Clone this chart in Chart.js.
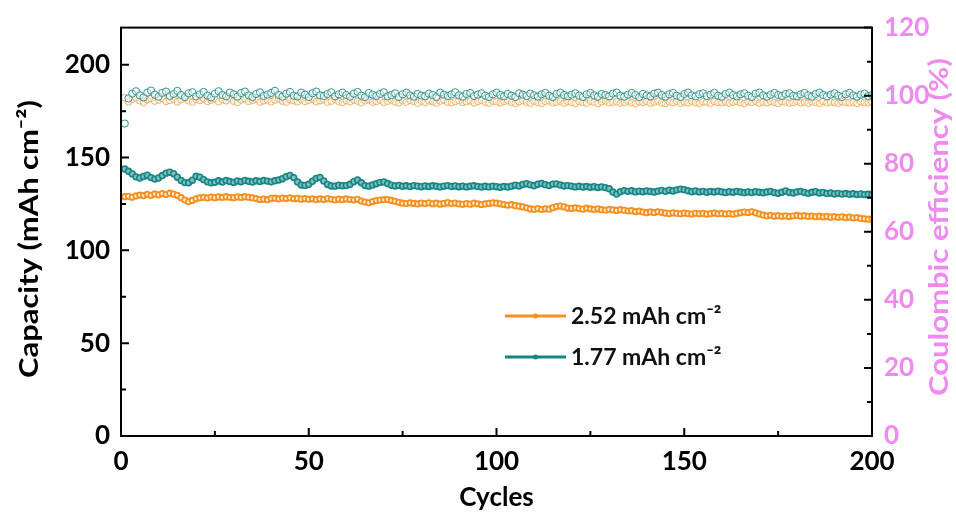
<!DOCTYPE html>
<html>
<head>
<meta charset="utf-8">
<script src="https://cdn.jsdelivr.net/npm/chart.js@4/dist/chart.umd.min.js"></script>
<style>
html,body{margin:0;padding:0;background:#fff;}
#wrap{width:956px;height:513px;position:relative;}
</style>
</head>
<body>
<div id="wrap"><canvas id="c" width="956" height="513"></canvas></div>
<script>
// ---- categories ----
const cycles = Array.from({length: 200}, (_, i) => i + 1);

// ---- series: capacity (mAh cm-2) ----
const cap252 = [
128.9,129.1,128.6,129.3,129.8,129.5,130.2,129.7,130.4,129.9,130.6,130.1,130.8,130.3,129.6,128.4,127.1,126.2,126.9,127.8,
128.3,128.6,128.2,128.7,128.4,128.8,128.5,128.9,128.6,128.4,128.8,128.5,128.9,128.6,128.3,127.9,127.4,127.6,127.3,128.0,
128.1,127.7,128.2,127.9,128.3,127.8,128.0,127.6,127.9,127.5,127.8,127.3,127.7,127.4,127.9,127.5,127.2,127.6,127.3,127.7,
127.4,127.1,127.5,126.6,126.0,125.6,126.3,126.8,127.1,127.3,127.4,126.9,126.4,125.9,125.4,125.2,125.6,125.3,125.0,125.5,
125.2,125.6,125.1,125.4,124.9,125.3,125.7,125.2,125.5,125.0,124.8,125.2,124.9,125.4,125.1,124.7,125.0,125.3,125.6,125.4,
125.1,124.7,124.3,124.6,124.1,123.8,123.4,122.9,122.3,122.1,122.5,122.0,122.4,122.2,123.0,123.6,123.9,123.4,122.8,122.6,
122.9,122.5,122.2,122.7,122.3,122.0,122.4,121.9,121.6,122.1,121.8,121.5,121.9,121.6,121.2,121.4,120.9,121.1,120.6,120.3,
120.7,120.4,120.8,120.5,120.1,119.8,120.2,119.9,119.7,120.1,119.8,119.6,120.0,119.7,119.9,119.5,119.8,120.1,119.7,119.9,
119.6,119.8,119.5,119.9,120.3,120.6,120.4,120.8,120.2,119.6,119.0,118.6,118.9,118.4,118.7,118.3,118.6,118.2,118.5,118.8,
118.4,118.7,118.3,118.5,118.1,118.4,118.0,118.3,117.9,118.2,117.8,118.1,117.6,117.9,117.4,117.7,117.2,117.0,116.8,116.7
];
const cap177 = [
143.8,142.6,141.2,139.6,139.0,139.8,140.5,139.2,138.4,139.0,140.3,141.6,142.1,141.3,139.4,137.6,136.5,136.4,137.8,139.9,
139.4,138.1,136.9,136.4,136.7,137.5,136.8,137.6,137.1,136.6,137.4,137.0,137.7,137.2,136.8,137.5,137.1,137.6,137.3,136.9,
137.5,137.9,138.6,139.7,140.4,139.2,136.8,135.2,135.0,135.6,137.2,138.8,139.3,137.4,135.5,134.7,134.6,135.1,134.8,134.9,
135.6,137.0,137.9,136.4,134.9,134.6,135.2,135.9,136.6,136.9,136.0,135.1,134.7,135.0,134.5,134.8,134.4,134.9,134.6,134.3,
134.7,134.4,134.8,134.5,134.2,134.6,134.9,134.4,134.7,134.3,134.6,134.2,134.5,134.8,134.4,134.1,134.5,134.2,134.6,134.3,
134.0,134.4,134.1,134.6,135.1,134.7,135.5,135.9,135.3,134.8,135.6,136.0,135.4,134.9,135.7,135.8,135.2,134.7,134.9,134.6,
134.2,134.5,134.1,134.4,134.0,134.3,133.9,134.2,133.8,133.2,131.4,130.3,131.6,132.2,131.8,132.1,131.5,131.9,131.6,132.0,
131.7,131.4,131.9,132.3,131.8,132.4,132.0,132.6,133.0,132.7,132.1,131.6,132.0,131.5,131.8,131.3,131.7,131.4,131.9,131.5,
131.2,131.6,131.3,131.8,131.4,131.1,131.5,131.2,131.6,131.3,131.0,131.4,131.8,131.1,130.8,131.3,132.0,131.2,130.9,131.5,
131.8,131.2,130.7,131.3,131.6,130.9,131.2,130.6,130.9,130.4,130.7,130.3,130.6,130.2,130.5,130.1,130.4,130.0,130.2,130.0
];

// ---- series: coulombic efficiency (%) ----
const ce252 = [
99.4,98.2,98.9,99.3,98.5,98.0,98.8,99.1,98.4,98.7,99.2,98.3,98.6,99.0,98.2,98.8,99.3,98.5,98.1,98.9,
98.6,99.1,98.3,98.7,99.0,98.2,98.8,98.5,99.2,98.4,98.0,98.7,99.1,98.3,98.6,98.9,98.1,98.5,98.8,98.2,
98.7,99.0,98.4,98.1,98.8,98.5,98.2,98.9,98.3,98.6,99.0,98.2,98.5,98.8,98.1,98.4,98.9,98.3,98.0,98.6,
98.2,98.7,98.4,97.9,98.5,98.8,98.1,98.3,98.7,98.0,98.4,98.8,98.2,97.9,98.5,98.1,98.6,98.3,97.8,98.4,
98.0,98.5,98.2,97.8,98.4,98.7,98.1,97.9,98.3,98.6,98.0,98.2,98.5,97.9,98.3,98.6,98.1,97.8,98.4,98.2,
97.9,98.3,98.5,98.0,97.7,98.2,98.6,98.1,97.8,98.4,98.0,97.7,98.3,98.5,97.9,98.1,98.4,97.8,98.2,98.0,
97.7,98.3,98.0,97.8,98.4,98.1,97.7,98.2,98.5,97.9,98.1,98.3,97.8,98.0,98.4,97.9,97.7,98.2,98.0,98.3,
97.8,98.1,98.4,97.9,97.7,98.2,98.0,98.3,97.8,98.1,97.9,98.4,98.0,97.7,98.2,98.1,97.8,98.3,98.0,97.9,
98.2,97.8,98.1,98.3,97.9,97.7,98.2,98.0,98.4,97.8,98.1,97.9,98.3,98.0,97.7,98.2,98.1,97.8,98.0,98.3,
97.9,98.1,97.8,98.2,98.0,97.7,98.3,97.9,98.1,98.0,97.8,98.2,98.0,97.9,98.1,97.7,98.2,98.0,97.9,98.1
];
const ce177 = [
91.8,99.2,100.6,101.3,100.1,99.5,100.9,101.5,100.3,99.7,100.8,101.2,99.9,100.5,101.4,100.2,99.6,100.7,101.0,99.8,
100.4,101.1,100.0,99.5,100.6,101.3,100.2,99.8,100.9,100.4,99.7,100.8,101.2,100.1,99.6,100.5,101.0,99.9,100.3,100.8,
101.4,100.2,99.7,100.6,101.1,100.0,99.8,100.9,100.3,99.6,100.7,101.2,100.1,99.9,100.5,101.0,99.8,100.4,100.9,100.2,
99.7,100.6,101.1,100.0,99.6,100.8,100.3,99.9,100.5,101.0,99.8,100.2,100.7,99.6,100.4,100.9,100.1,99.7,100.5,100.0,
99.8,100.6,100.2,99.6,100.9,100.3,99.9,100.4,101.0,100.1,99.7,100.5,100.8,99.9,100.3,100.7,100.0,99.6,100.4,100.9,
100.2,99.8,100.5,100.0,99.6,100.7,100.3,99.9,100.6,100.1,99.7,100.4,100.8,100.0,99.6,100.5,100.9,100.2,99.8,100.3,
100.7,100.0,99.6,100.4,100.8,100.1,99.7,100.5,100.2,99.8,100.6,100.9,100.0,99.7,100.3,100.8,100.2,99.6,100.5,100.1,
99.8,100.6,100.9,100.2,99.7,100.4,100.8,100.0,99.6,100.5,100.9,100.1,99.8,100.4,100.7,99.9,100.3,100.8,100.0,99.7,
100.5,100.9,100.2,99.8,100.4,100.7,100.0,99.6,100.6,100.9,100.1,99.7,100.3,100.8,100.2,99.9,100.5,100.7,100.0,99.8,
100.4,100.8,100.1,99.7,100.5,100.9,100.2,99.8,100.3,100.7,100.0,99.6,100.4,100.8,100.1,99.7,100.3,100.6,99.9,100.2
];

// ---- tick labels ----
const xMajor = [0, 50, 100, 150, 200];
const xMinor = [25, 75, 125, 175];
const yMajor = [0, 50, 100, 150, 200];
const yMinor = [25, 75, 125, 175];
const y2Major = [0, 20, 40, 60, 80, 100, 120];
const y2Minor = [10, 30, 50, 70, 90, 110];

const seriesLabels = ['2.52 mAh cm\u207B\u00B2', '1.77 mAh cm\u207B\u00B2'];
const titleX = 'Cycles';
const titleY = 'Capacity (mAh cm\u207B\u00B2)';
const titleY2 = 'Coulombic efficiency (%)';

const ORANGE = '#F7901E';
const ORANGE_L = '#F5AE5E';
const TEAL = '#178585';
const TEAL_L = '#2F9494';
const VIOLET = '#F08AF0';
const FONT = 'Lato, "Open Sans", sans-serif';

function vTitle(ctx, text, color, cx, cy, len) {
  ctx.save();
  ctx.fillStyle = color;
  ctx.font = 'bold 26px ' + FONT;
  ctx.textAlign = 'center';
  ctx.textBaseline = 'middle';
  const w = ctx.measureText(text).width;
  ctx.translate(cx, cy);
  ctx.rotate(-Math.PI / 2);
  ctx.scale(len / w, 1);
  ctx.fillText(text, 0, 0);
  ctx.restore();
}

const frame = {
  id: 'frame',
  afterDraw(chart) {
    const {ctx, chartArea: a, scales} = chart;
    ctx.save();
    ctx.strokeStyle = '#000';
    ctx.lineWidth = 2;
    ctx.strokeRect(a.left, a.top, a.right - a.left, a.bottom - a.top);
    ctx.beginPath();
    xMajor.forEach(v => { const p = scales.x.getPixelForValue(v); ctx.moveTo(p, a.bottom); ctx.lineTo(p, a.bottom - 8); });
    xMinor.forEach(v => { const p = scales.x.getPixelForValue(v); ctx.moveTo(p, a.bottom); ctx.lineTo(p, a.bottom - 5); });
    yMajor.forEach(v => { const p = scales.y.getPixelForValue(v); ctx.moveTo(a.left, p); ctx.lineTo(a.left + 8, p); });
    yMinor.forEach(v => { const p = scales.y.getPixelForValue(v); ctx.moveTo(a.left, p); ctx.lineTo(a.left + 5, p); });
    y2Major.forEach(v => { const p = scales.y2.getPixelForValue(v); ctx.moveTo(a.right, p); ctx.lineTo(a.right - 8, p); });
    y2Minor.forEach(v => { const p = scales.y2.getPixelForValue(v); ctx.moveTo(a.right, p); ctx.lineTo(a.right - 5, p); });
    ctx.stroke();
    ctx.restore();

    // axis titles (read bottom-to-top)
    vTitle(ctx, titleY, '#000', 30, 239, 278);
    vTitle(ctx, titleY2, VIOLET, 940, 227, 338);

    // legend
    ctx.save();
    const rows = [{ds: chart.data.datasets[0], y: 316}, {ds: chart.data.datasets[1], y: 357}];
    rows.forEach(r => {
      ctx.strokeStyle = r.ds.borderColor;
      ctx.lineWidth = 3;
      ctx.beginPath(); ctx.moveTo(505, r.y); ctx.lineTo(566, r.y); ctx.stroke();
      ctx.fillStyle = r.ds.borderColor;
      ctx.beginPath(); ctx.arc(535.5, r.y, 2.5, 0, Math.PI * 2); ctx.fill();
      ctx.fillStyle = '#111';
      ctx.font = 'bold 23px ' + FONT;
      ctx.textAlign = 'left';
      ctx.textBaseline = 'middle';
      ctx.fillText(r.ds.label, 571, r.y + 1);
    });
    ctx.restore();
  }
};

new Chart(document.getElementById('c'), {
  type: 'line',
  data: {
    labels: cycles,
    datasets: [
      { label: seriesLabels[0], data: cap252, yAxisID: 'y', borderColor: ORANGE, backgroundColor: '#FFE7C8',
        borderWidth: 1.5, pointRadius: 2.7, pointBorderWidth: 1.8, pointBackgroundColor: '#FFF0DC', pointBorderColor: ORANGE, order: 1 },
      { label: seriesLabels[1], data: cap177, yAxisID: 'y', borderColor: TEAL, backgroundColor: '#6FB8B8',
        borderWidth: 1.5, pointRadius: 2.9, pointBorderWidth: 1.6, pointBackgroundColor: '#7CC0C0', pointBorderColor: TEAL, order: 0 },
      { label: 'CE 2.52', data: ce252, yAxisID: 'y2', showLine: false, borderColor: ORANGE_L,
        pointRadius: 3.3, pointBorderWidth: 1, pointBackgroundColor: 'rgba(255,255,255,0.5)', pointBorderColor: ORANGE_L, order: 3 },
      { label: 'CE 1.77', data: ce177, yAxisID: 'y2', showLine: false, borderColor: TEAL_L,
        pointRadius: 3.6, pointBorderWidth: 1, pointBackgroundColor: 'rgba(255,255,255,0.5)', pointBorderColor: TEAL_L, order: 2 }
    ]
  },
  options: {
    responsive: false,
    animation: false,
    devicePixelRatio: 1,
    layout: { autoPadding: false, padding: { top: 25, left: 0, right: 0, bottom: 0 } },
    plugins: { legend: { display: false }, tooltip: { enabled: false } },
    scales: {
      x: {
        type: 'linear', position: 'bottom', min: 0, max: 200,
        afterFit: s => { s.height = 77; },
        afterBuildTicks: s => { s.ticks = xMajor.map(v => ({value: v})); },
        grid: { display: false, drawTicks: false },
        border: { display: false },
        ticks: { color: '#000', padding: 10, maxRotation: 0, font: { family: FONT, size: 26, weight: 'bold' } },
        title: { display: true, text: titleX, color: '#000', padding: { top: 0, bottom: 0 }, font: { family: FONT, size: 26, weight: 'bold' } }
      },
      y: {
        type: 'linear', position: 'left', min: 0, max: 220,
        afterFit: s => { s.width = 121; },
        afterBuildTicks: s => { s.ticks = yMajor.map(v => ({value: v})); },
        grid: { display: false, drawTicks: false },
        border: { display: false },
        ticks: { color: '#000', padding: 11, font: { family: FONT, size: 26, weight: 'bold' } }
      },
      y2: {
        type: 'linear', position: 'right', min: 0, max: 120,
        afterFit: s => { s.width = 84; },
        afterBuildTicks: s => { s.ticks = y2Major.map(v => ({value: v})); },
        grid: { display: false, drawTicks: false },
        border: { display: false },
        ticks: { color: VIOLET, padding: 12, font: { family: FONT, size: 26, weight: 'bold' } }
      }
    }
  },
  plugins: [frame]
});
</script>
</body>
</html>
